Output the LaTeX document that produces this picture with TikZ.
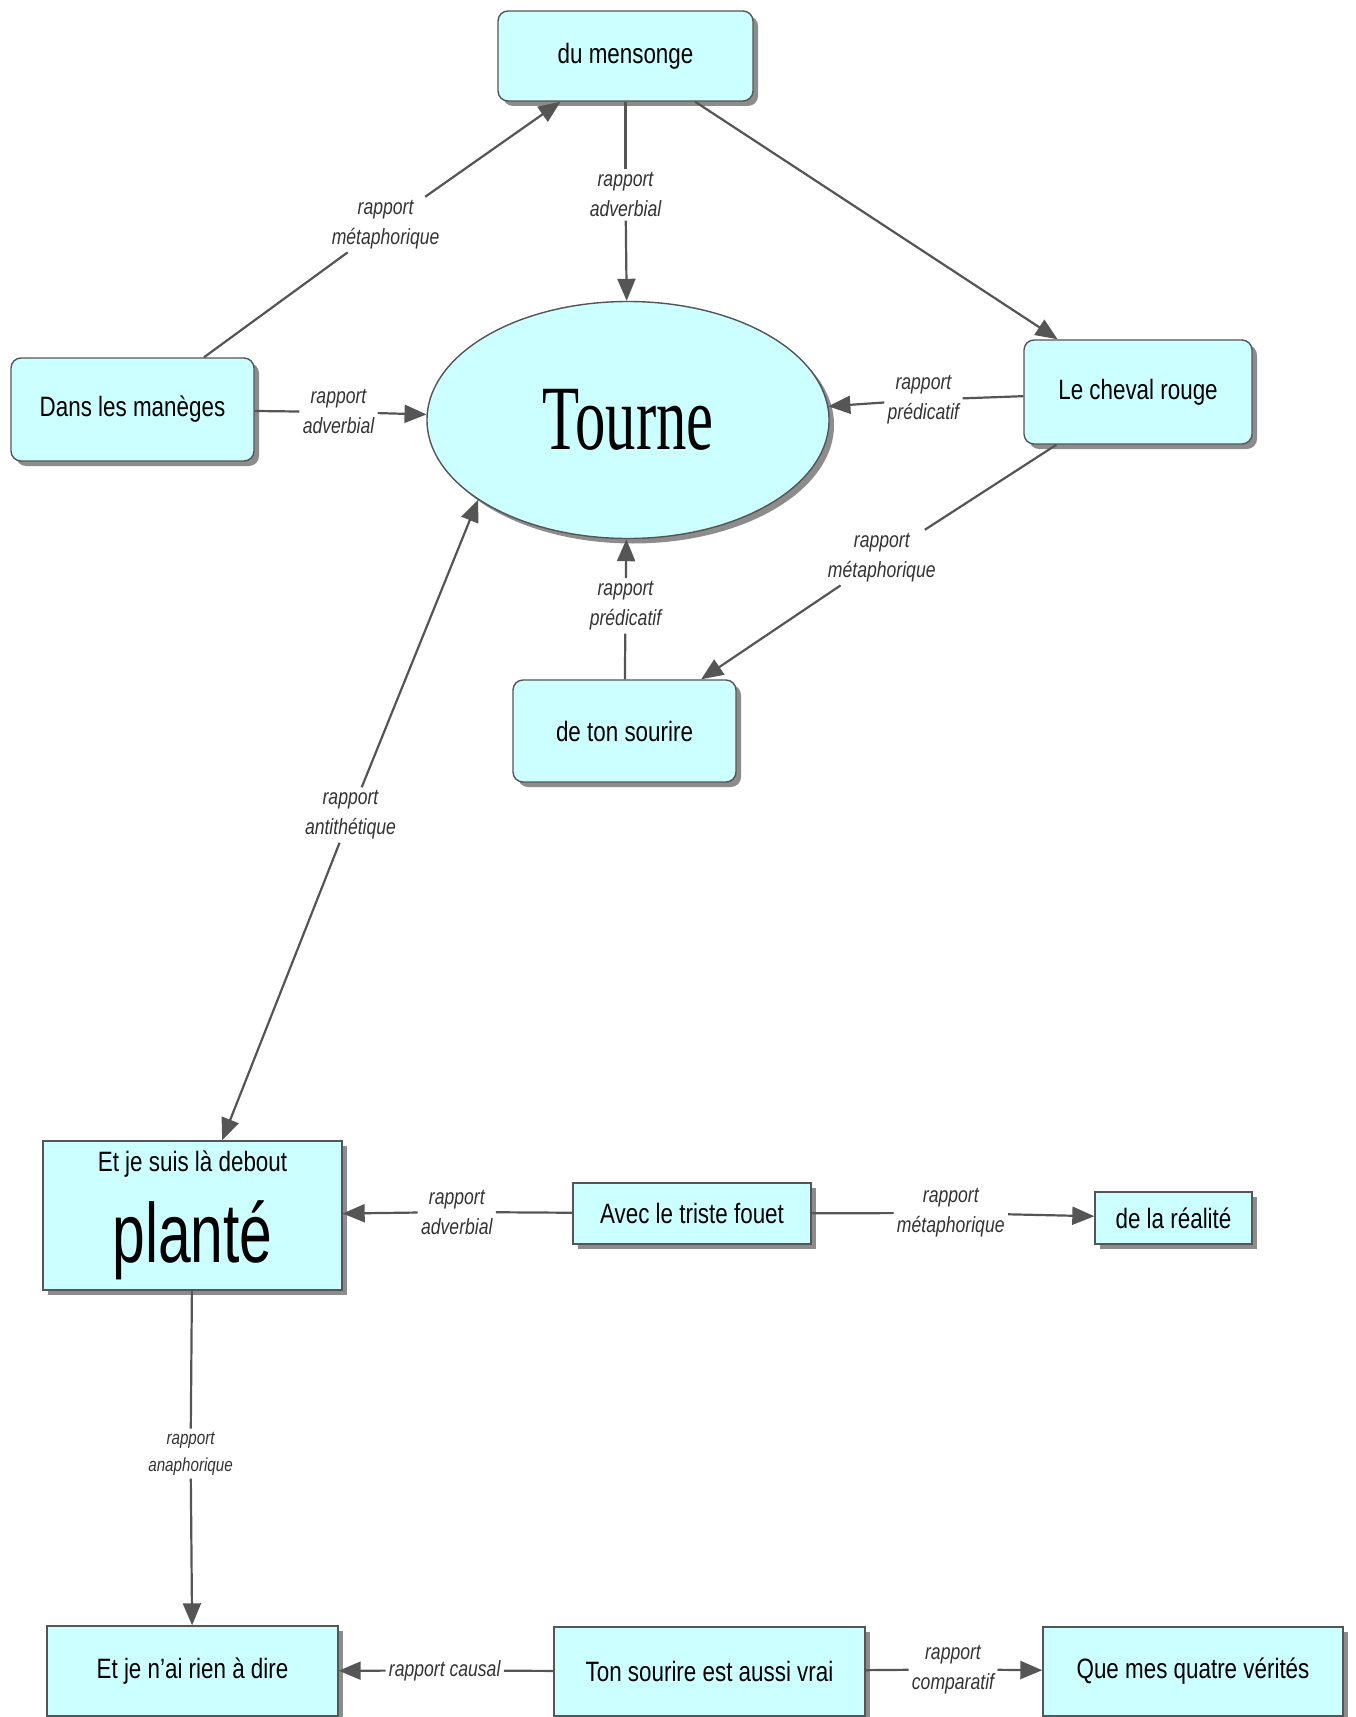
\documentclass[tikz,border=0pt]{standalone}
\usepackage{fontspec}
\setmainfont{Liberation Sans}[FakeStretch=0.8]
\newfontfamily\bigsans{Liberation Sans}[FakeStretch=0.7]
\newfontfamily\bigserif{Liberation Serif}[FakeStretch=0.66]
\usetikzlibrary{shapes.geometric,shadows,arrows.meta}
\definecolor{cfill}{HTML}{CCFFFF}
\definecolor{linec}{HTML}{555555}
\definecolor{shadowc}{HTML}{8C8C8C}
\definecolor{labc}{HTML}{333333}
\begin{document}
\begin{tikzpicture}[x=0.5pt,y=-0.5pt,
	sqconcept/.style={draw=linec,fill=cfill,line width=0.7pt,inner sep=0pt,align=center,
		drop shadow={shadow xshift=2.5pt,shadow yshift=-2.5pt,fill=shadowc,opacity=1},
		font=\fontsize{14}{17}\selectfont},
	concept/.style={sqconcept,rounded corners=5pt},
	rel/.style={inner sep=1.5pt,align=center,text=labc,font=\itshape\fontsize{11}{15}\selectfont},
	link/.style={draw=linec,line width=1.1pt},
	arr/.style={link,-{Triangle[length=11pt,width=9pt]}}]
	\useasboundingbox (0,0) rectangle (1355,1717);
	% concepts
	\node[concept,minimum width=127.5pt,minimum height=45pt] (mensonge) at (625.5,56) {du mensonge};
	\node[concept,minimum width=121.5pt,minimum height=51.5pt] (maneges) at (132.5,409.5) {Dans les manèges};
	\node[sqconcept,ellipse,minimum width=201pt,minimum height=118.5pt,font=\bigserif\fontsize{46}{46}\selectfont] (tourne) at (628,420) {Tourne};
	\node[concept,minimum width=114pt,minimum height=52pt] (cheval) at (1138,392) {Le cheval rouge};
	\node[concept,minimum width=111.5pt,minimum height=51pt] (sourire) at (624.5,731) {de ton sourire};
	\node[sqconcept,minimum width=149.5pt,minimum height=74.5pt] (plante) at (192.5,1215.5) {Et je suis là debout\\[11pt]{\bigsans\fontsize{42}{42}\selectfont planté}};
	\node[sqconcept,minimum width=119pt,minimum height=30.5pt] (fouet) at (692,1213.5) {Avec le triste fouet};
	\node[sqconcept,minimum width=78.5pt,minimum height=26pt] (realite) at (1173.5,1218) {de la réalité};
	\node[sqconcept,minimum width=145.5pt,minimum height=45pt] (riendire) at (192.5,1671) {Et je n'ai rien à dire};
	\node[sqconcept,minimum width=155.5pt,minimum height=44.5pt] (vrai) at (709.5,1671.5) {Ton sourire est aussi vrai};
	\node[sqconcept,minimum width=150pt,minimum height=44.5pt] (verites) at (1193,1671.5) {Que mes quatre vérités};
	% liens
	\node[rel] (r1) at (385.6,224.6) {rapport\\métaphorique};
	\node[rel] (r2) at (625.5,195) {rapport\\adverbial};
	\node[rel] (r3) at (338.5,412) {rapport\\adverbial};
	\node[rel] (r4) at (923.4,399.8) {rapport\\prédicatif};
	\node[rel] (r5) at (881.8,557.6) {rapport\\métaphorique};
	\node[rel] (r6) at (625.5,605.8) {rapport\\prédicatif};
	\node[rel] (r7) at (350.5,815) {rapport\\antithétique};
	\node[rel] (r8) at (456.8,1212) {rapport\\adverbial};
	\node[rel] (r9) at (950.8,1213) {rapport\\métaphorique};
	\node[rel,font=\itshape\fontsize{9.5}{13.5}\selectfont] (r10) at (190.6,1453.6) {rapport\\anaphorique};
	\node[rel] (r11) at (444.7,1670.5) {rapport causal};
	\node[rel] (r12) at (953,1669.4) {rapport\\comparatif};
	\draw[link] (maneges) -- (r1);
	\draw[arr] (r1) -- (mensonge);
	\draw[link] (mensonge) -- (r2);
	\draw[arr] (r2) -- (tourne);
	\draw[arr] (mensonge) -- (cheval);
	\draw[link] (maneges) -- (r3);
	\draw[arr] (r3) -- (tourne);
	\draw[link] (cheval) -- (r4);
	\draw[arr] (r4) -- (tourne);
	\draw[link] (cheval) -- (r5);
	\draw[arr] (r5) -- (sourire);
	\draw[link] (sourire) -- (r6);
	\draw[arr] (r6) -- (tourne);
	\draw[arr] (r7) -- (tourne.208);
	\draw[arr] (r7) -- (plante);
	\draw[link] (fouet) -- (r8);
	\draw[arr] (r8) -- (plante);
	\draw[link] (fouet) -- (r9);
	\draw[arr] (r9) -- (realite);
	\draw[link] (plante) -- (r10);
	\draw[arr] (r10) -- (riendire);
	\draw[link] (vrai) -- (r11);
	\draw[arr] (r11) -- (riendire);
	\draw[link] (vrai) -- (r12);
	\draw[arr] (r12) -- (verites);
\end{tikzpicture}
\end{document}
